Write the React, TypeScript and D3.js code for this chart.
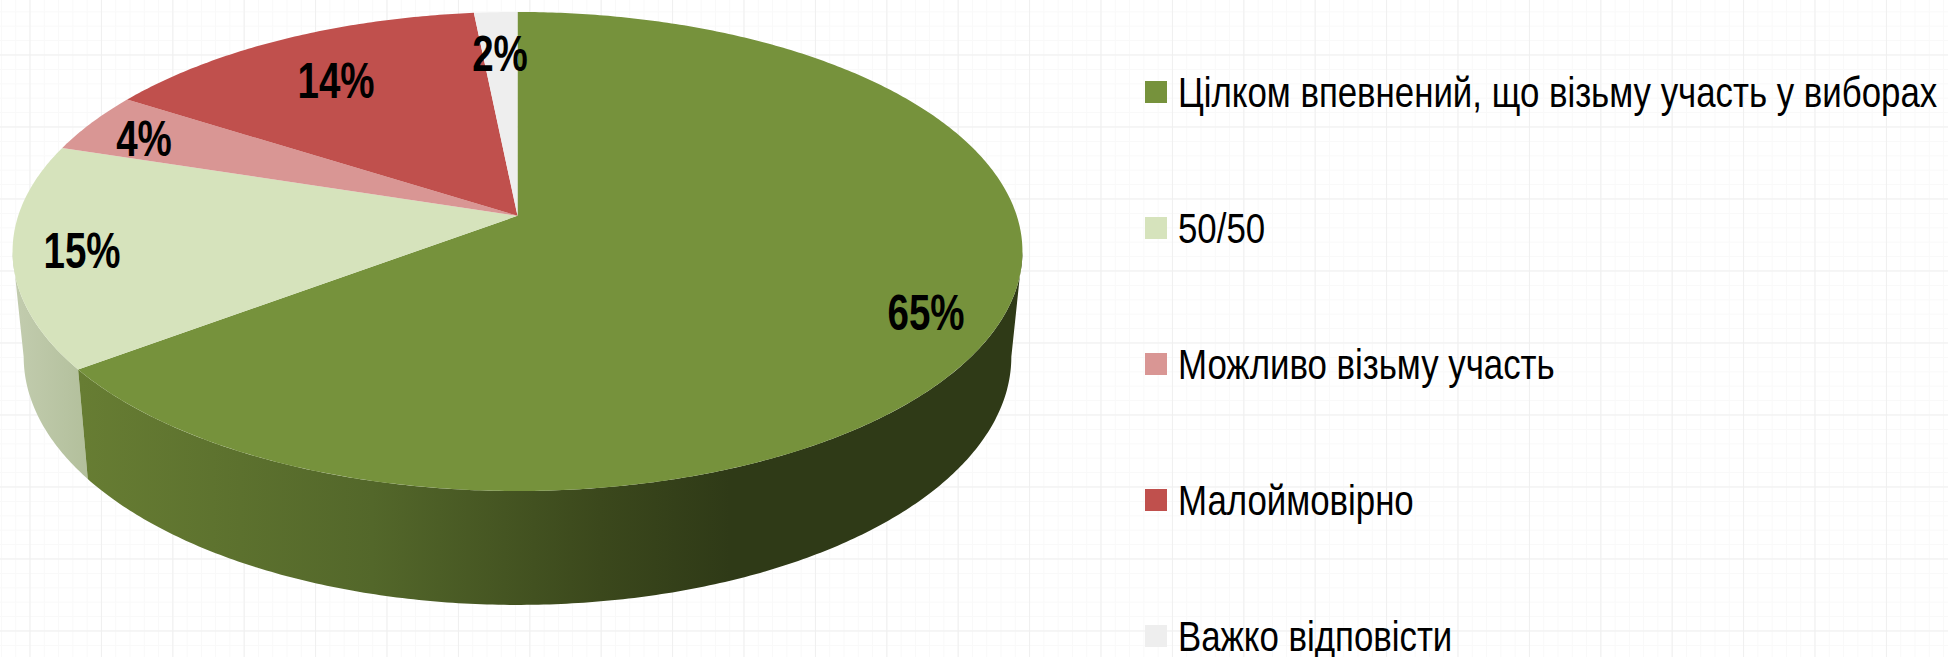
import React from 'react';
import * as d3 from 'd3';

const categories = [
  'Цілком впевнений, що візьму участь у виборах',
  '50/50',
  'Можливо візьму участь',
  'Малоймовірно',
  'Важко відповісти',
];
const shares = [64.8, 15.1, 4.1, 14.4, 1.6];
const colors = ['#76923c', '#d6e3bc', '#d99694', '#c0504d', '#eeeeee'];

const width = 1948;
const height = 657;
const font = '"Liberation Sans", Arial, sans-serif';

// apex of the pie and the perspective of the tilted disc
const cx = 517.5;
const cy = 215.8;
const rimA = 499.3;
const rimB = 234.2;
const tilt = -0.149;

const project = (t: number) => {
  const u = Math.sin(t);
  const v = -Math.cos(t);
  const d = 1 + tilt * v;
  return [(rimA * u) / d, (rimB * v) / d];
};
const top = (t: number): [number, number] => {
  const [x, y] = project(t);
  return [cx + x, cy + y];
};
const bottom = (t: number): [number, number] => {
  const [x, y] = project(t);
  return [cx + x * 0.978, cy + 104 + y * 1.036];
};

const sample = (a: number, b: number) => {
  const n = Math.max(2, Math.ceil(Math.abs(b - a) / 0.01));
  return d3.range(n + 1).map((i) => a + ((b - a) * i) / n);
};

const line = d3.line();

const arcs = d3.pie<number>().sort(null).value((d) => d)(shares);

const rad = (deg: number) => (deg * Math.PI) / 180;
const edgeRight = rad(98.6);
const edgeLeft = rad(261.4);

const wall = (a: number, b: number) =>
  line([...sample(a, b).map(top), ...sample(a, b).reverse().map(bottom)]) + 'Z';

const labelPos = [
  [926, 330],
  [82, 268],
  [144, 156],
  [336, 98],
  [500, 71],
];

const legendX = 1145;
const legendY = d3.scalePoint<number>().domain(d3.range(categories.length)).range([81, 625]);

const majorX = d3.range(30, width, 71.4);
const majorY = d3.range(55, height, 72);
const minorX = d3.range(30 - 71.4, width, 71.4 / 5);
const minorY = d3.range(55 - 72, height, 72 / 5);

export default function App() {
  const split = arcs[0].endAngle;
  return (
    <svg
      width={width}
      height={height}
      style={{ position: 'absolute', left: 0, top: 0, background: '#fff' }}
    >
      <defs>
        <linearGradient id="wallDark" gradientUnits="userSpaceOnUse" x1="80" x2="730" y1="0" y2="0">
          <stop offset="0" stopColor="#677d33" />
          <stop offset="0.45" stopColor="#53672a" />
          <stop offset="0.8" stopColor="#3b481c" />
          <stop offset="1" stopColor="#2f3a17" />
        </linearGradient>
        <linearGradient id="wallLight" gradientUnits="userSpaceOnUse" x1="15" x2="90" y1="0" y2="0">
          <stop offset="0" stopColor="#c2ccae" />
          <stop offset="1" stopColor="#b2bf9b" />
        </linearGradient>
      </defs>
      <g stroke="#f9f9f9" strokeWidth="1">
        {minorX.map((x) => (
          <line key={x} x1={x} x2={x} y1={0} y2={height} />
        ))}
        {minorY.map((y) => (
          <line key={y} y1={y} y2={y} x1={0} x2={width} />
        ))}
      </g>
      <g stroke="#efefef" strokeWidth="1">
        {majorX.map((x) => (
          <line key={x} x1={x} x2={x} y1={0} y2={height} />
        ))}
        {majorY.map((y) => (
          <line key={y} y1={y} y2={y} x1={0} x2={width} />
        ))}
      </g>
      <path d={wall(split, edgeLeft)} fill="url(#wallLight)" />
      <path d={wall(edgeRight, split)} fill="url(#wallDark)" />
      {arcs.map((a, i) => (
        <path
          key={categories[i]}
          d={line([[cx, cy], ...sample(a.startAngle, a.endAngle).map(top)]) + 'Z'}
          fill={colors[i]}
        />
      ))}
      {shares.map((s, i) => (
        <text
          key={i}
          transform={`translate(${labelPos[i][0]},${labelPos[i][1]}) scale(0.77,1)`}
          textAnchor="middle"
          fontFamily={font}
          fontWeight="bold"
          fontSize={50}
          fill="#000"
        >
          {Math.round(s)}%
        </text>
      ))}
      {categories.map((c, i) => (
        <g key={c} transform={`translate(${legendX},${legendY(i)})`}>
          <rect x={0} y={0} width={22} height={22} fill={colors[i]} />
          <text
            transform="translate(33,26) scale(0.81,1)"
            fontFamily={font}
            fontSize={43}
            fill="#000"
          >
            {c}
          </text>
        </g>
      ))}
    </svg>
  );
}
